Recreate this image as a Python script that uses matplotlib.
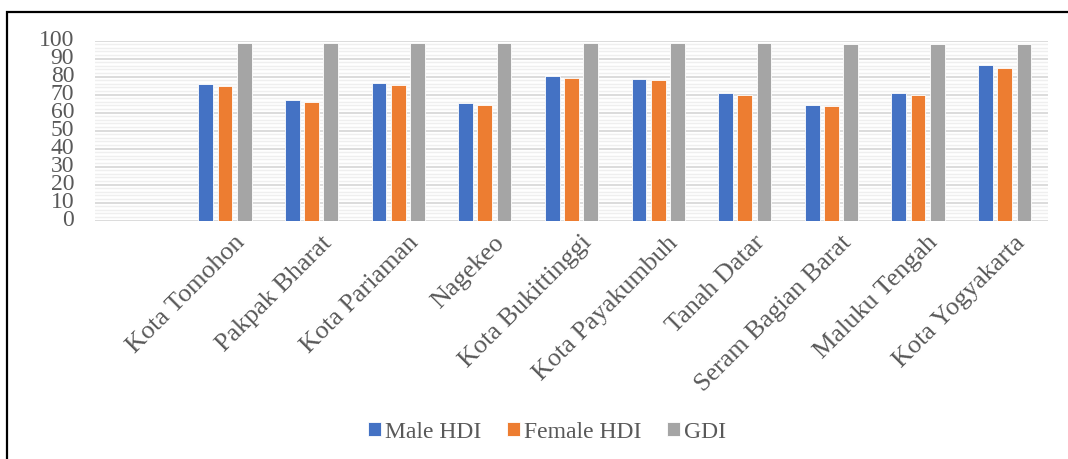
import matplotlib
matplotlib.use("Agg")
import matplotlib.pyplot as plt
import numpy as np
from matplotlib.patches import Rectangle
from matplotlib.ticker import MultipleLocator

categories = ["Kota Tomohon", "Pakpak Bharat", "Kota Pariaman", "Nagekeo",
              "Kota Bukittinggi", "Kota Payakumbuh", "Tanah Datar",
              "Seram Bagian Barat", "Maluku Tengah", "Kota Yogyakarta"]
male_hdi = [75.8, 66.9, 76.5, 65.4, 80.4, 78.9, 71.1, 64.5, 71.1, 86.3]
female_hdi = [74.8, 66.1, 75.6, 64.5, 79.5, 78.0, 70.0, 63.5, 69.9, 84.7]
gdi = [98.9, 98.9, 98.9, 98.9, 98.9, 98.5, 98.5, 98.2, 98.2, 98.2]
series_names = ["Male HDI", "Female HDI", "GDI"]
colors = ["#4472C4", "#ED7D31", "#A5A5A5"]

plt.rcParams['font.family'] = ['Liberation Serif', 'DejaVu Serif']
text_color = "#595959"
fs = 17

fig = plt.figure(figsize=(10.68, 4.59), dpi=100)
ax = fig.add_axes([95/1068, 1-220.7/459, (1048-95)/1068, (220.7-40.7)/459])

x = np.arange(len(categories))
w = 0.17
off = 0.222
for i, (vals, name, c) in enumerate(zip([male_hdi, female_hdi, gdi], series_names, colors)):
    ax.bar(x + (i-1)*off, vals, width=w, color=c, label=name,
           edgecolor="white", linewidth=0.6, zorder=3)

ax.set_xlim(-1.5, len(categories) - 0.5)
ax.set_ylim(0, 100)
ax.yaxis.set_major_locator(MultipleLocator(10))
ax.yaxis.set_minor_locator(MultipleLocator(2))
ax.grid(axis='y', which='major', color="#d9d9d9", linewidth=1.3, zorder=0)
ax.grid(axis='y', which='minor', color="#efefef", linewidth=1.0, zorder=0)
ax.set_axisbelow(True)
for s in ax.spines.values():
    s.set_visible(False)
ax.tick_params(axis='both', which='both', length=0)
ax.tick_params(axis='y', labelsize=fs, labelcolor=text_color, pad=15)
ax.set_yticks(np.arange(0, 101, 10))
for lbl in ax.get_yticklabels():
    lbl.set_verticalalignment('center')
ax.set_xticks(x + 0.1)
ax.set_xticklabels(categories, rotation=45, ha='right', rotation_mode='anchor',
                   fontsize=18.8, color=text_color)
ax.tick_params(axis='x', pad=8)

leg = fig.legend(loc='center', bbox_to_anchor=(547/1068, 1-432/459), ncol=3,
                 frameon=False, fontsize=fs, handlelength=0.55, handleheight=0.55,
                 handletextpad=0.2, columnspacing=1.05)
for t in leg.get_texts():
    t.set_color(text_color)

fig.patches.append(Rectangle((7/1068, -0.1), 1.2, 1-12/459+0.1, transform=fig.transFigure,
                             fill=False, edgecolor="black", linewidth=1.6))

fig.savefig("out.png", dpi=100)
